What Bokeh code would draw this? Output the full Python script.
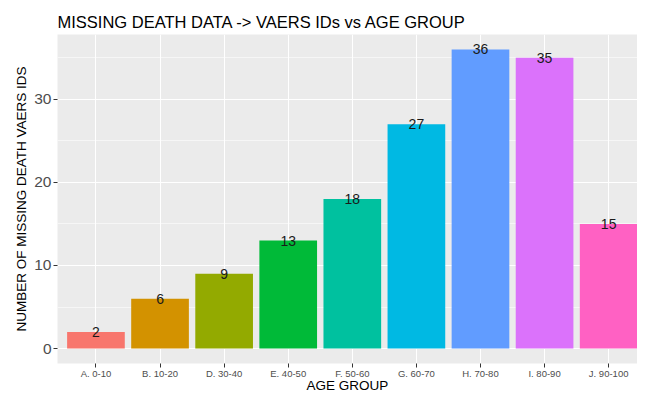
from bokeh.plotting import figure
from bokeh.models import Range1d, FixedTicker, ColumnDataSource
from bokeh.core.properties import value
from bokeh.embed import file_html
from bokeh.resources import INLINE

categories = ["A. 0-10", "B. 10-20", "D. 30-40", "E. 40-50", "F. 50-60",
              "G. 60-70", "H. 70-80", "I. 80-90", "J. 90-100"]
counts = [2, 6, 9, 13, 18, 27, 36, 35, 15]
colors = ["#F8766D", "#D39200", "#93AA00", "#00BA38", "#00C19F",
          "#00B9E3", "#619CFF", "#DB72FB", "#FF61C3"]
y_ticks = [0, 10, 20, 30]
y_minor = [5, 15, 25, 35]

FONT = "Liberation Sans"
positions = list(range(1, len(categories) + 1))

src = ColumnDataSource(dict(x=positions, top=counts, color=colors,
                            label=[str(c) for c in counts]))

p = figure(width=637, height=395, output_backend="svg", toolbar_location=None,
           x_range=Range1d(0.4, 9.45), y_range=Range1d(-1.8, 37.8),
           min_border_left=57, min_border_right=0, min_border_top=34,
           min_border_bottom=20)

p.background_fill_color = "#EBEBEB"
p.border_fill_color = "white"
p.outline_line_color = None

p.title.text = "MISSING DEATH DATA -> VAERS IDs vs AGE GROUP"
p.title.text_font = FONT
p.title.text_font_size = "16.5px"
p.title.text_font_style = "normal"
p.title.text_color = "black"
p.title.align = "left"
p.title.standoff = 8

p.vbar(x="x", top="top", bottom=0, width=0.9, fill_color="color",
       line_color=None, source=src)
p.text(x="x", y="top", text="label", text_align="center",
       text_baseline="middle", text_font=value(FONT), text_font_size="14px",
       text_color="#1A1A1A", source=src)

xt = FixedTicker(ticks=positions)
p.xaxis.ticker = xt
p.xgrid.ticker = xt
p.xaxis.major_label_overrides = {pos: c for pos, c in zip(positions, categories)}
p.xaxis.major_label_text_font = FONT
p.xaxis.major_label_text_font_size = "9.5px"
p.xaxis.major_label_text_color = "#4D4D4D"
p.xaxis.major_label_standoff = 0
p.xaxis.axis_label = "AGE GROUP"
p.xaxis.axis_label_text_font = FONT
p.xaxis.axis_label_text_font_size = "13.5px"
p.xaxis.axis_label_text_font_style = "normal"
p.xaxis.axis_label_text_color = "black"
p.xaxis.axis_label_standoff = -4

yt = FixedTicker(ticks=y_ticks, minor_ticks=y_minor)
p.yaxis.ticker = yt
p.ygrid.ticker = yt
p.yaxis.major_label_text_font = FONT
p.yaxis.major_label_text_font_size = "15.5px"
p.yaxis.major_label_text_color = "#4D4D4D"
p.yaxis.major_label_standoff = 2
p.yaxis.axis_label = "NUMBER OF MISSING DEATH VAERS IDS"
p.yaxis.axis_label_text_font = FONT
p.yaxis.axis_label_text_font_size = "13.5px"
p.yaxis.axis_label_text_font_style = "normal"
p.yaxis.axis_label_text_color = "black"
p.yaxis.axis_label_standoff = 2

for ax in (p.xaxis, p.yaxis):
    ax.axis_line_color = None
    ax.major_tick_out = 4
    ax.major_tick_in = 0
    ax.major_tick_line_color = "#333333"
    ax.major_tick_line_width = 1
    ax.minor_tick_line_color = None

p.xgrid.grid_line_color = "white"
p.xgrid.grid_line_width = 1.1
p.ygrid.grid_line_color = "white"
p.ygrid.grid_line_width = 1.1
p.ygrid.minor_grid_line_color = "white"
p.ygrid.minor_grid_line_width = 0.55

open("out.html", "w").write(file_html(p, INLINE))
